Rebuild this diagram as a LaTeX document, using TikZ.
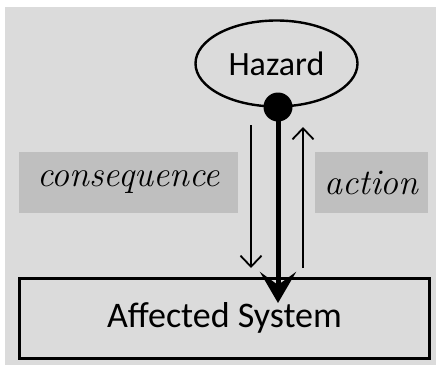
\documentclass[tikz,border=0pt]{standalone}
\usepackage{fontspec}
\newfontfamily\boxfont{Carlito}
\usepackage{tikz}
\usetikzlibrary{arrows.meta,shapes.geometric,positioning}

\begin{document}
\begin{tikzpicture}[x=1pt,y=-1pt,
    every node/.style={inner sep=0pt},
    hazardnode/.style={ellipse,draw,line width=2.4pt,minimum width=162pt,minimum height=86pt,font=\boxfont\fontsize{34}{38}\selectfont},
    systemnode/.style={rectangle,draw,line width=3pt,minimum width=410pt,minimum height=80pt,font=\boxfont\fontsize{36}{40}\selectfont},
    tagnode/.style={rectangle,fill=black!25,minimum height=61pt,font=\rmfamily\itshape\fontsize{36}{40}\selectfont},
    thin arrow/.style={line width=1.8pt,-{Straight Barb[length=11pt,width=21pt,line width=1.8pt]}}]
    %background
    \fill[white] (0,0) rectangle (441,370);
    \fill[black!14] (5,7) rectangle (436,365);
    %nodes
    \node[hazardnode] (hazard) at (276.5,63.5) {Hazard};
    \node[circle,fill=black,minimum size=29pt] (dot) at (278,107) {};
    \node[systemnode] (system) at (224.5,318) {Affected System};
    \node[tagnode,minimum width=219pt] (consequence) at (128.5,182.5) {consequence};
    \node[tagnode,minimum width=113pt] (action) at (371.5,182.5) {action};
    \coordinate (tip) at (278,303);
    \coordinate (ctop) at (251,125);
    \coordinate (cbot) at (251,268);
    \coordinate (abot) at (303,268);
    \coordinate (atop) at (303,127);
    %edges
    \draw[line width=5pt,-{Stealth[length=31pt,width=36pt,inset=13pt]}] (dot.center) -- (tip);
    \path[thin arrow]
     (ctop) edge (cbot)
     (abot) edge (atop);
\end{tikzpicture}
\end{document}
